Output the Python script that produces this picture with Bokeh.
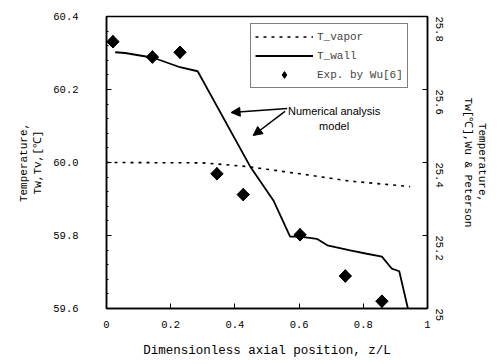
import math
from bokeh.plotting import figure
from bokeh.models import (Range1d, LinearAxis, FixedTicker, Legend, LegendItem,
                          Label, Arrow, NormalHead, PrintfTickFormatter)
from bokeh.embed import file_html
from bokeh.resources import INLINE

# ---- data ----
wall_x = [0.027, 0.058, 0.146, 0.229, 0.284, 0.447, 0.52, 0.572, 0.603, 0.655,
          0.688, 0.759, 0.811, 0.858, 0.889, 0.912, 0.939]
wall_y = [60.302, 60.30, 60.287, 60.261, 60.25, 59.99, 59.896, 59.797, 59.797,
          59.791, 59.773, 59.759, 59.75, 59.742, 59.709, 59.702, 59.60]
vap_x = [0.0, 0.30, 0.437, 0.603, 0.759, 0.946]
vap_y = [60.0, 59.999, 59.989, 59.969, 59.949, 59.934]
exp_x = [0.02, 0.143, 0.229, 0.344, 0.426, 0.603, 0.744, 0.858]
exp_y = [60.331, 60.289, 60.302, 59.969, 59.912, 59.802, 59.689, 59.620]
x_ticks = [0, 0.2, 0.4, 0.6, 0.8, 1.0]
y_ticks = [59.6, 59.8, 60.0, 60.2, 60.4]
y2_ticks = [25.0, 25.2, 25.4, 25.6, 25.8]

MONO = "Liberation Mono"

p = figure(width=497, height=364, output_backend="svg", toolbar_location=None,
           x_range=Range1d(0, 1), y_range=Range1d(59.6, 60.4),
           min_border_left=106, min_border_right=70, min_border_top=16,
           min_border_bottom=56)
p.extra_y_ranges = {"right": Range1d(25.0, 25.8)}
p.xgrid.visible = False
p.ygrid.visible = False
p.outline_line_color = "black"
p.outline_line_width = 1.5

r_vap = p.line(vap_x, vap_y, line_color="black", line_width=1.6, line_dash="3 5")
r_wall = p.line(wall_x, wall_y, line_color="black", line_width=1.8)
# diamond marker (used for legend), covered by rotated squares of same extent
r_exp = p.scatter(exp_x, exp_y, marker="diamond", size=12.5, color="black")
p.scatter(exp_x, exp_y, marker="square", angle=math.pi / 4, size=8.8, color="black")

# axes styling
xa = p.xaxis[0]
xa.ticker = FixedTicker(ticks=x_ticks)
xa.major_label_overrides = {0: "0", 1: "1"}
xa.axis_label = "Dimensionless axial position, z/L"

ya = p.yaxis[0]
ya.ticker = FixedTicker(ticks=y_ticks, minor_ticks=[59.6 + 0.04 * i for i in range(21)])
ya.formatter = PrintfTickFormatter(format="%.1f")
ya.axis_label = "Temperature,\nTw,Tv,[\u2103]"

y2 = LinearAxis(y_range_name="right", ticker=FixedTicker(ticks=y2_ticks),
                formatter=PrintfTickFormatter(format="%.1f"),
                axis_label="Temperature,\nTw[\u2103],Wu & Peterson")
y2.major_label_overrides = {25: "25"}
y2.major_label_orientation = -math.pi / 2
p.add_layout(y2, "right")

for ax in [xa, ya, y2]:
    ax.axis_line_color = "black"
    ax.axis_line_width = 1.5
    ax.major_tick_in = 5
    ax.major_tick_out = 0
    ax.minor_tick_in = 2
    ax.minor_tick_out = 0
    ax.major_tick_line_color = "black"
    ax.major_label_text_font = MONO
    ax.major_label_text_font_size = "10.5px"
    ax.major_label_text_color = "black"
    ax.axis_label_text_font = MONO
    ax.axis_label_text_font_size = "11px"
    ax.axis_label_text_font_style = "normal"
    ax.axis_label_text_color = "black"
xa.minor_tick_line_color = None
y2.minor_tick_line_color = None
xa.axis_label_text_font_size = "12.5px"

xa.major_label_standoff = 12
xa.axis_label_standoff = 13
ya.major_label_standoff = 28
ya.axis_label_standoff = 6
y2.major_label_standoff = 12
y2.axis_label_standoff = 12

legend = Legend(items=[LegendItem(label="T_vapor", renderers=[r_vap]),
                       LegendItem(label="T_wall", renderers=[r_wall]),
                       LegendItem(label="Exp. by Wu[6]", renderers=[r_exp])],
                location=(144, 220), margin=0, padding=4, spacing=2,
                glyph_width=58, glyph_height=17, label_height=17,
                label_standoff=4,
                label_text_font=MONO, label_text_font_size="11px",
                border_line_color="black", border_line_width=1.2,
                background_fill_alpha=1.0)
p.add_layout(legend)

p.add_layout(Label(x=0.709, y=60.142, text="Numerical analysis", text_align="center",
                   text_baseline="middle", text_font="Liberation Sans",
                   text_font_size="11px", text_color="black"))
p.add_layout(Label(x=0.709, y=60.099, text="model", text_align="center",
                   text_baseline="middle", text_font="Liberation Sans",
                   text_font_size="11px", text_color="black"))
p.add_layout(Arrow(x_start=0.563, y_start=60.148, x_end=0.388, y_end=60.137,
                   line_width=1.5, line_color="black",
                   end=NormalHead(size=9, fill_color="black", line_color="black")))
p.add_layout(Arrow(x_start=0.556, y_start=60.14, x_end=0.457, y_end=60.074,
                   line_width=1.5, line_color="black",
                   end=NormalHead(size=9, fill_color="black", line_color="black")))

open("out.html", "w").write(file_html(p, INLINE))
